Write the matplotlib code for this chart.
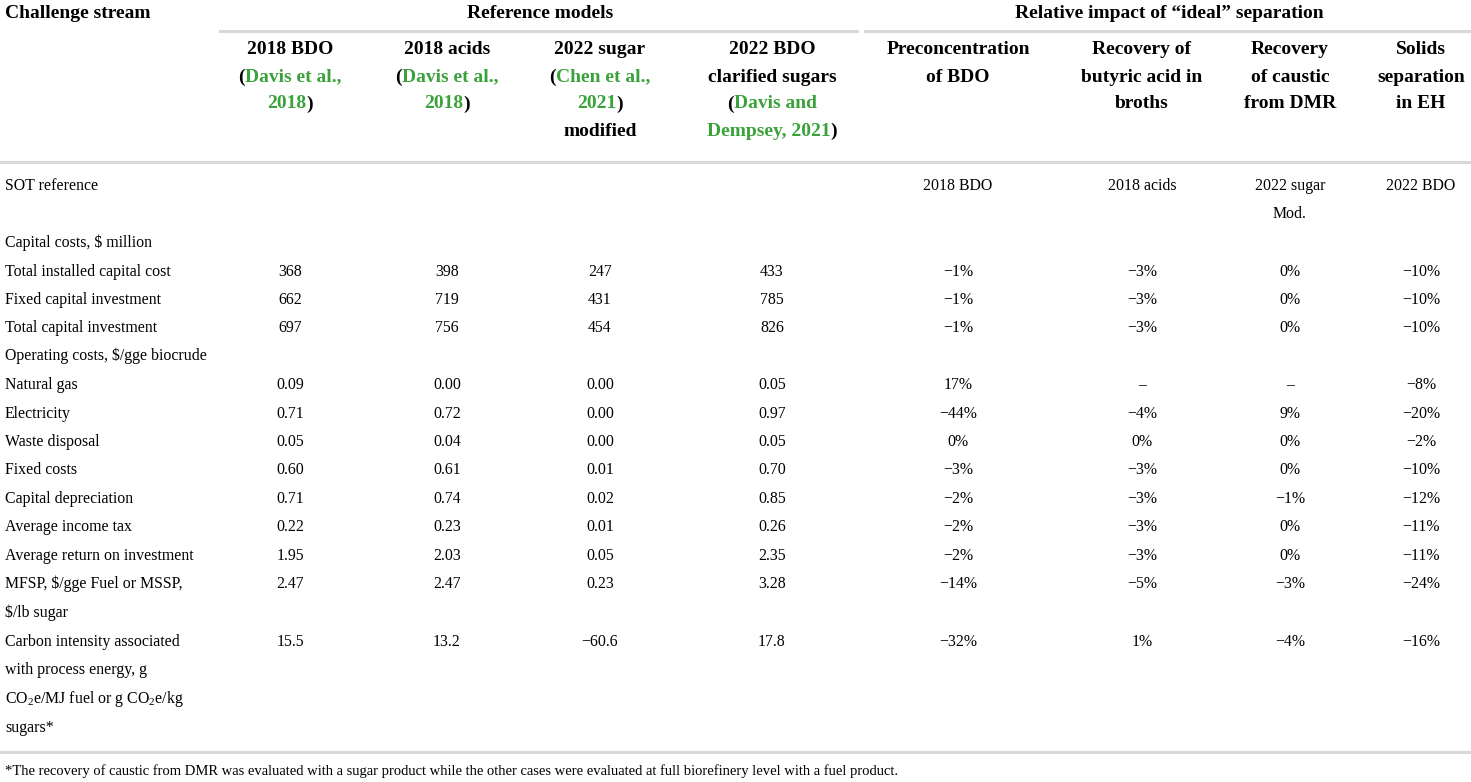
import matplotlib

matplotlib.use('Agg')

from matplotlib import pyplot as plt

plt.rcParams['font.family'] = ['Liberation Serif', 'DejaVu Serif']
plt.rcParams['mathtext.fontset'] = 'custom'
plt.rcParams['mathtext.rm'] = 'Liberation Serif'
plt.rcParams['mathtext.it'] = 'Liberation Serif:italic'

# 표 데이터
row_names = [
    "SOT reference",
    r"Capital costs, \$ million",
    "Total installed capital cost",
    "Fixed capital investment",
    "Total capital investment",
    r"Operating costs, \$/gge biocrude",
    "Natural gas",
    "Electricity",
    "Waste disposal",
    "Fixed costs",
    "Capital depreciation",
    "Average income tax",
    "Average return on investment",
    "MFSP, \\$/gge Fuel or MSSP,\n\\$/lb sugar",
    "Carbon intensity associated\nwith process energy, g\nCO$_2$e/MJ fuel or g CO$_2$e/kg\nsugars*",
]
row_fmt = [None, None, "{:.0f}", "{:.0f}", "{:.0f}", None, "{:.2f}", "{:.2f}", "{:.2f}",
           "{:.2f}", "{:.2f}", "{:.2f}", "{:.2f}", "{:.2f}", "{:.1f}"]

bdo_2018 = [None, None, 368, 662, 697, None, 0.09, 0.71, 0.05, 0.60, 0.71, 0.22, 1.95, 2.47, 15.5]
acids_2018 = [None, None, 398, 719, 756, None, 0.00, 0.72, 0.04, 0.61, 0.74, 0.23, 2.03, 2.47, 13.2]
sugar_2022 = [None, None, 247, 431, 454, None, 0.00, 0.00, 0.00, 0.01, 0.02, 0.01, 0.05, 0.23, -60.6]
bdo_2022 = [None, None, 433, 785, 826, None, 0.05, 0.97, 0.05, 0.70, 0.85, 0.26, 2.35, 3.28, 17.8]

# 상대 영향 (%), "–" 는 해당 없음
preconc_bdo = [None, None, -1, -1, -1, None, 17, -44, 0, -3, -2, -2, -2, -14, -32]
butyric_rec = [None, None, -3, -3, -3, None, "–", -4, 0, -3, -3, -3, -3, -5, 1]
caustic_rec = [None, None, 0, 0, 0, None, "–", 9, 0, 0, -1, 0, 0, -3, -4]
solids_sep = [None, None, -10, -10, -10, None, -8, -20, -2, -10, -12, -11, -11, -24, -16]

sot_refs = ["2018 BDO", "2018 acids", "2022 sugar\nMod.", "2022 BDO"]

impact_headers = ["Preconcentration\nof BDO", "Recovery of\nbutyric acid in\nbroths",
                  "Recovery\nof caustic\nfrom DMR", "Solids\nseparation\nin EH"]

footnote = ("*The recovery of caustic from DMR was evaluated with a sugar product while the other "
            "cases were evaluated at full biorefinery level with a fuel product.")

K = 'black'
G = '#3aa23a'
ref_headers = [
    [[("2018 BDO", K)], [("(", K), ("Davis et al.,", G)], [("2018", G), (")", K)]],
    [[("2018 acids", K)], [("(", K), ("Davis et al.,", G)], [("2018", G), (")", K)]],
    [[("2022 sugar", K)], [("(", K), ("Chen et al.,", G)], [("2021", G), (")", K)], [("modified", K)]],
    [[("2022 BDO", K)], [("clarified sugars", K)], [("(", K), ("Davis and", G)],
     [("Dempsey, 2021", G), (")", K)]],
]

# 레이아웃 (픽셀 단위)
W, H = 1471, 782
col_x = [290, 447, 600, 772, 958, 1142, 1290, 1421]
row_y = [186, 243, 272, 300, 328, 356, 385, 414, 442, 470, 499, 527, 556, 584, 642]
line_h = 28.5
head_y = [50, 77, 104, 131]
BODY = 11.4
HEAD = 14
NOTE = 10.5

fig = plt.figure(figsize=(W / 100, H / 100), dpi=100)
renderer = fig.canvas.get_renderer()


def fx(x):
    return x / W


def fy(y):
    return 1 - y / H


def put(x, y, s, ha='center', size=BODY, weight='normal', color=K):
    return fig.text(fx(x), fy(y), s, ha=ha, va='center', fontsize=size,
                    fontweight=weight, color=color)


def put_segments(x, y, segments, size=HEAD, weight='bold'):
    # 색이 섞인 한 줄을 가운데 정렬로 그리기
    texts = []
    widths = []
    for s, c in segments:
        t = fig.text(0, fy(y), s, ha='left', va='center', fontsize=size,
                     fontweight=weight, color=c)
        widths.append(t.get_window_extent(renderer).width)
        texts.append(t)
    start = x - sum(widths) / 2
    for t, w in zip(texts, widths):
        t.set_x(fx(start))
        start += w


def hline(y, x0, x1):
    fig.add_artist(plt.Line2D([fx(x0), fx(x1)], [fy(y), fy(y)], color='#d9d9d9', lw=2.2))


# 상단 헤더
put(5, 13, "Challenge stream", ha='left', size=HEAD, weight='bold')
put(540, 13, "Reference models", size=HEAD, weight='bold')
put(1169, 13, "Relative impact of \u201cideal\u201d separation", size=HEAD, weight='bold')
hline(31, 220, 857)
hline(31, 865, 1471)

for cx, lines in zip(col_x[:4], ref_headers):
    for ly, segs in zip(head_y, lines):
        put_segments(cx, ly, segs)

for cx, hdr in zip(col_x[4:], impact_headers):
    for ly, s in zip(head_y, hdr.split("\n")):
        put(cx, ly, s, size=HEAD, weight='bold')

hline(162, 0, 1471)

# 본문
for i, name in enumerate(row_names):
    for j, s in enumerate(name.split("\n")):
        put(5, row_y[i] + j * line_h, s, ha='left')

for cx, col in zip(col_x[:4], [bdo_2018, acids_2018, sugar_2022, bdo_2022]):
    for i, v in enumerate(col):
        if v is None:
            continue
        put(cx, row_y[i], row_fmt[i].format(v).replace("-", "\u2212"))

for cx, s in zip(col_x[4:], sot_refs):
    for j, part in enumerate(s.split("\n")):
        put(cx, row_y[0] + j * line_h, part)

for cx, col in zip(col_x[4:], [preconc_bdo, butyric_rec, caustic_rec, solids_sep]):
    for i, v in enumerate(col):
        if v is None:
            continue
        s = v if isinstance(v, str) else f"{v}%".replace("-", "\u2212")
        put(cx, row_y[i], s)

hline(752, 0, 1471)
put(5, 771, footnote, ha='left', size=NOTE)

fig.savefig('out.png', dpi=100)
